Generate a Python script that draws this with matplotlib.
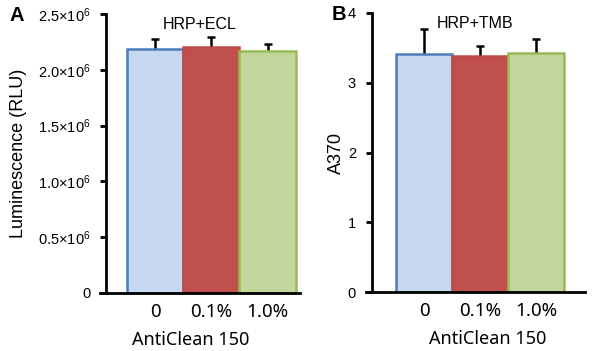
import numpy as np
import matplotlib
matplotlib.use("Agg")
import matplotlib.pyplot as plt

plt.rcParams['font.family'] = ['Liberation Sans', 'DejaVu Sans']
plt.rcParams['mathtext.fontset'] = 'custom'
plt.rcParams['mathtext.rm'] = 'Liberation Sans'
plt.rcParams['mathtext.default'] = 'regular'

# data
categories = ['0', '0.1%', '1.0%']
xlabel = 'AntiClean 150'

ecl_values = [2.19e6, 2.205e6, 2.165e6]
ecl_errors = [0.09e6, 0.085e6, 0.07e6]
ecl_ticks = [0, 0.5e6, 1.0e6, 1.5e6, 2.0e6, 2.5e6]
ecl_ticklabels = ['0', '0.5×10$^{6}$', '1.0×10$^{6}$', '1.5×10$^{6}$',
                  '2.0×10$^{6}$', '2.5×10$^{6}$']

tmb_values = [3.41, 3.39, 3.42]
tmb_errors = [0.36, 0.14, 0.21]
tmb_ticks = [0, 1, 2, 3, 4]

fills = ['#C6D9F1', '#C0504D', '#C3D69B']
edges = ['#4A7EBB', '#BE4B48', '#98B954']

xfont = ['Noto Sans', 'DejaVu Sans']


def draw_panel(ax, values, errors, ticks, ticklabels, ymax, ylabel, title,
               letter, letter_x, xlim, spine_x, label_x):
    x = np.arange(len(categories))
    # symmetric bars drawn under the boxes so only the upper half shows
    ax.errorbar(x, values, yerr=errors, fmt='none', ecolor='black',
                elinewidth=1.8, capsize=2.8, capthick=1.8, zorder=1)
    ax.bar(x, values, width=1.0, color=fills, edgecolor=edges, linewidth=1.8,
           zorder=2)
    ax.set_xlim(*xlim)
    ax.set_ylim(0, ymax)
    ax.spines['top'].set_visible(False)
    ax.spines['right'].set_visible(False)
    ax.spines['left'].set_position(('data', spine_x))
    ax.spines['left'].set_linewidth(2)
    ax.spines['bottom'].set_linewidth(2)
    ax.spines['left'].set_bounds(0, ymax)
    ax.spines['bottom'].set_zorder(4)
    ax.set_yticks(ticks)
    ax.set_yticklabels(ticklabels)
    ax.tick_params(axis='y', length=4.5, width=2, pad=7, labelsize=10.5)
    ax.set_xticks(x)
    ax.set_xticklabels(categories, family=xfont, fontsize=13.5)
    ax.tick_params(axis='x', length=0, pad=7)
    ax.set_xlabel(xlabel, family=xfont, fontsize=13)
    ax.xaxis.set_label_coords(label_x, -0.135)
    ax.set_ylabel(ylabel, fontsize=13)
    ax.text(0.5, 0.99, title, transform=ax.transAxes, ha='center', va='top',
            fontsize=11.5)
    ax.text(letter_x, 0.995, letter, transform=ax.transAxes,
            ha='left', va='center', fontsize=14.5, fontweight='bold')


fig = plt.figure(figsize=(6.0, 3.51), dpi=100)
ax1 = fig.add_axes([100 / 600, 1 - 293 / 351, 200 / 600, (293 - 14) / 351])
ax2 = fig.add_axes([366 / 600, 1 - 292 / 351, 219 / 600, (292 - 13) / 351])

draw_panel(ax1, ecl_values, ecl_errors, ecl_ticks, ecl_ticklabels, 2.5e6,
           'Luminescence (RLU)', 'HRP+ECL', 'A', -0.45, (-0.99, 2.58), -0.88,
           0.455)
draw_panel(ax2, tmb_values, tmb_errors, tmb_ticks,
           [str(t) for t in tmb_ticks], 4, 'A370', 'HRP+TMB', 'B', -0.155,
           (-1.045, 2.87), -0.94, 0.555)
ax1.yaxis.set_label_coords(-0.365, 0.5)
ax2.yaxis.set_label_coords(-0.098, 0.5)

fig.savefig('out.png', dpi=100)
